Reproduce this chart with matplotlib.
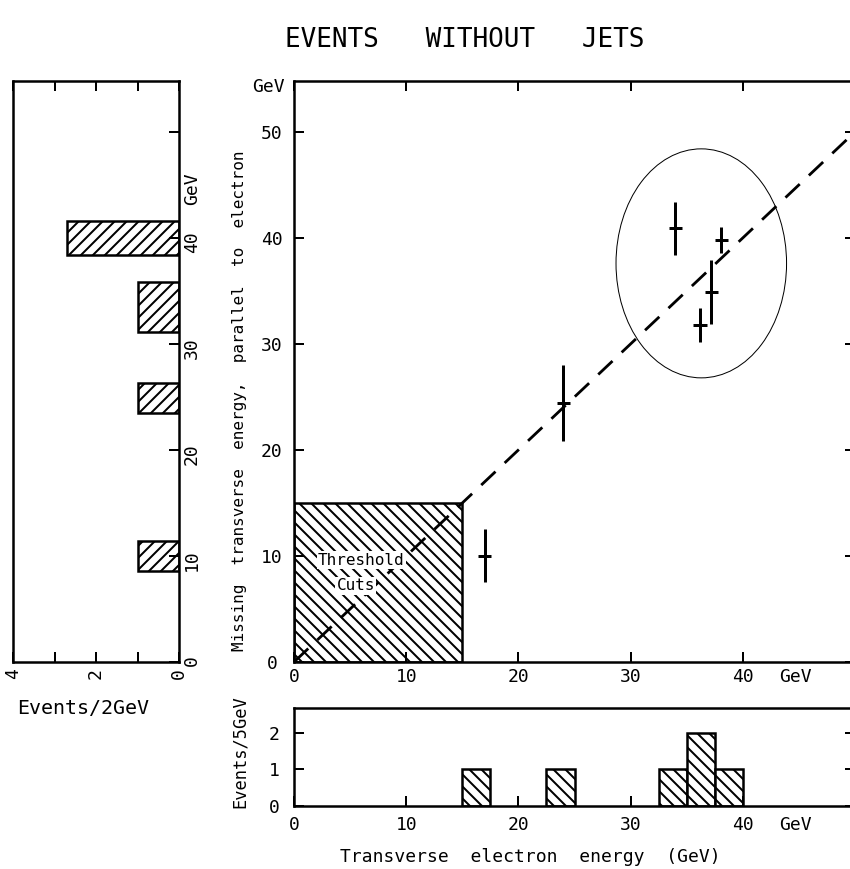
import matplotlib
matplotlib.use("Agg")
import matplotlib.pyplot as plt
from matplotlib.patches import Rectangle, Ellipse

# events without jets: electron ET vs missing ET parallel to electron
ele_et = [17.0, 24.0, 34.0, 36.2, 37.2, 38.1]
miss_et = [10.0, 24.4, 40.9, 31.8, 34.9, 39.8]
miss_err = [2.5, 3.6, 2.5, 1.6, 3.0, 1.25]
ele_err = 0.6

# threshold cuts (GeV) and the y = x reference line
cut_et = 15
diag = [0, 50]

# cluster ellipse (centre, width, height in GeV)
ell_centre = (36.3, 37.6)
ell_w, ell_h = 15.2, 21.6

# left histogram: missing ET, events / 2 GeV
miss_bins = [10.0, 24.9, 33.5, 40.0]
miss_bin_w = [2.8, 2.8, 4.7, 3.2]
miss_counts = [1, 1, 1, 2.7]

# bottom histogram: electron ET, events / 5 GeV
ele_bin_left = [15, 22.5, 32.5, 35, 37.5]
ele_bin_w = 2.5
ele_counts = [1, 1, 1, 2, 1]

xticks = [0, 10, 20, 30, 40]
yticks = [0, 10, 20, 30, 40, 50]

plt.rcParams['font.family'] = ['DejaVu Sans Mono', 'DejaVu Sans']
plt.rcParams['hatch.linewidth'] = 2.0

DPI = 72
W, H = 850, 869
fig = plt.figure(figsize=(W / DPI, H / DPI), dpi=DPI)


def px_box(l, t, r, b):
    return [l / W, 1 - b / H, (r - l) / W, (b - t) / H]


ax = fig.add_axes(px_box(294, 81, 855, 662))
axl = fig.add_axes(px_box(13, 81, 179, 662))
axb = fig.add_axes(px_box(294, 708, 855, 806))

for a in (ax, axl, axb):
    for s in a.spines.values():
        s.set_linewidth(2.5)

# ---- main scatter
ax.set_xlim(0, 50)
ax.set_ylim(0, 54.8)
ax.add_patch(Rectangle((0, 0), cut_et, cut_et, fill=False, hatch='\\\\',
                       lw=2.5, ec='k'))
ax.plot(diag, diag, ls=(0, (7, 4.5)), lw=2.8, color='k')
ax.errorbar(ele_et, miss_et, yerr=miss_err, xerr=ele_err, fmt='none',
            ecolor='k', elinewidth=3, capsize=0)
ax.add_patch(Ellipse(ell_centre, ell_w, ell_h, fill=False, lw=1, ec='k'))
box = dict(facecolor='white', edgecolor='none', pad=1.5)
ax.text(6.0, 9.6, 'Threshold', fontsize=16, ha='center', va='center', bbox=box)
ax.text(5.5, 7.2, 'Cuts', fontsize=16, ha='center', va='center', bbox=box)

ax.set_xticks(xticks)
ax.set_yticks(yticks)
ax.tick_params(direction='in', length=10, width=2, labelsize=18,
               top=True, right=True)
ax.tick_params(axis='x', pad=6)
ax.tick_params(axis='y', pad=22)
for lab in ax.get_yticklabels():
    lab.set_ha('center')
ax.text(-0.8, 54.2, 'GeV', fontsize=18, ha='right', va='center', clip_on=False)
ax.text(44.65, -0.0103, 'GeV', fontsize=18, ha='center', va='top',
        transform=ax.get_xaxis_transform(), clip_on=False)

# ---- left histogram (rotated)
axl.barh(miss_bins, miss_counts, height=miss_bin_w, color='white',
         edgecolor='k', lw=2.5, hatch='//')
axl.set_xlim(4, 0)
axl.set_ylim(0, 54.8)
axl.yaxis.tick_right()
axl.set_yticks(yticks, labels=['0', '10', '20', '30', '40', ''])
axl.set_xticks([0, 1, 2, 3, 4], labels=['0', '', '2', '', '4'])
axl.tick_params(direction='in', length=10, width=2, labelsize=18,
                labelrotation=90, top=True)
axl.tick_params(axis='y', pad=4, left=False)
axl.tick_params(axis='x', pad=6)
axl.text(1.025, 44.6, 'GeV', fontsize=18, rotation=90, ha='left', va='center',
         transform=axl.get_yaxis_transform(), clip_on=False)
fig.text(17 / W, 1 - 708 / H, 'Events/2GeV', fontsize=20, ha='left', va='center')

# ---- bottom histogram
axb.bar(ele_bin_left, ele_counts, width=ele_bin_w, align='edge', color='white',
        edgecolor='k', lw=2.5, hatch='\\\\')
axb.set_xlim(0, 50)
axb.set_ylim(0, 2.68)
axb.set_xticks(xticks)
axb.set_yticks([0, 1, 2])
axb.tick_params(direction='in', length=10, width=2, labelsize=18, right=True)
axb.tick_params(axis='x', pad=10)
axb.tick_params(axis='y', pad=20)
for lab in axb.get_yticklabels():
    lab.set_ha('center')
axb.text(44.65, -0.1, 'GeV', fontsize=18, ha='center', va='top',
         transform=axb.get_xaxis_transform(), clip_on=False)

fig.text(240 / W, 1 - 401 / H, 'Missing  transverse  energy,  parallel  to  electron',
         fontsize=16, rotation=90, ha='center', va='center')
fig.text(240 / W, 1 - 752 / H, 'Events/5GeV', fontsize=17, rotation=90,
         ha='center', va='center')
fig.text(530 / W, 1 - 857 / H, 'Transverse  electron  energy  (GeV)',
         fontsize=18, ha='center', va='center')
fig.text(465 / W, 1 - 40 / H, 'EVENTS   WITHOUT   JETS', fontsize=26,
         ha='center', va='center')

fig.savefig('out.png', dpi=DPI)
